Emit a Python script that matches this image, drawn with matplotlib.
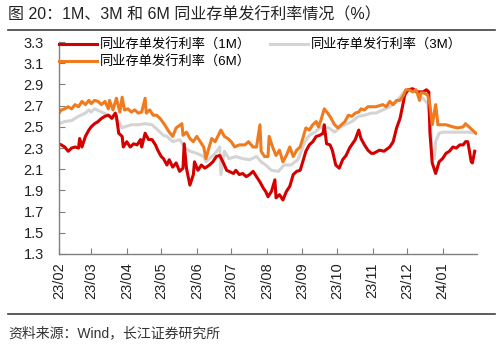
import matplotlib.pyplot as plt
import matplotlib.dates as mdates
import pandas as pd
import numpy as np

plt.rcParams['font.family'] = ['Liberation Sans', 'Noto Sans CJK SC']

# 1M
m1_dates = [
    "2023-02-01", "2023-02-03", "2023-02-06", "2023-02-09", "2023-02-12", "2023-02-15", "2023-02-18",
    "2023-02-19", "2023-02-21", "2023-02-24", "2023-02-27", "2023-03-01", "2023-03-04", "2023-03-07",
    "2023-03-10", "2023-03-13", "2023-03-16", "2023-03-19", "2023-03-22", "2023-03-23", "2023-03-25",
    "2023-03-28", "2023-03-29", "2023-04-01", "2023-04-04", "2023-04-07", "2023-04-10", "2023-04-13",
    "2023-04-14", "2023-04-17", "2023-04-20", "2023-04-23", "2023-04-26", "2023-04-28", "2023-05-01",
    "2023-05-03", "2023-05-06", "2023-05-08", "2023-05-11", "2023-05-14", "2023-05-17", "2023-05-20",
    "2023-05-21", "2023-05-23", "2023-05-26", "2023-05-29", "2023-05-30", "2023-06-02", "2023-06-05",
    "2023-06-08", "2023-06-12", "2023-06-15", "2023-06-18", "2023-06-21", "2023-06-25", "2023-06-27",
    "2023-06-29", "2023-07-03", "2023-07-05", "2023-07-08", "2023-07-11", "2023-07-14", "2023-07-17",
    "2023-07-20", "2023-07-23", "2023-07-26", "2023-07-29", "2023-07-31", "2023-08-02", "2023-08-05",
    "2023-08-08", "2023-08-09", "2023-08-12", "2023-08-15", "2023-08-18", "2023-08-21", "2023-08-24",
    "2023-08-27", "2023-08-30", "2023-09-01", "2023-09-04", "2023-09-07", "2023-09-10", "2023-09-13",
    "2023-09-16", "2023-09-19", "2023-09-20", "2023-09-22", "2023-09-25", "2023-09-27", "2023-09-30",
    "2023-10-03", "2023-10-06", "2023-10-09", "2023-10-12", "2023-10-17", "2023-10-20", "2023-10-22",
    "2023-10-25", "2023-10-28", "2023-10-31", "2023-11-02", "2023-11-07", "2023-11-11", "2023-11-16",
    "2023-11-19", "2023-11-22", "2023-11-25", "2023-11-28", "2023-11-29", "2023-12-02", "2023-12-06",
    "2023-12-10", "2023-12-15", "2023-12-18", "2023-12-20", "2023-12-21", "2023-12-23", "2023-12-26",
    "2023-12-29", "2024-01-01", "2024-01-04", "2024-01-07", "2024-01-10", "2024-01-13", "2024-01-16",
    "2024-01-19", "2024-01-21", "2024-01-23", "2024-01-26", "2024-01-27", "2024-01-29",
]
m1_values = [
    2.34, 2.33, 2.31, 2.27, 2.30, 2.31, 2.30,
    2.39, 2.31, 2.41, 2.47, 2.50, 2.53, 2.55,
    2.58, 2.60, 2.61, 2.58, 2.63, 2.60, 2.44,
    2.41, 2.31, 2.36, 2.31, 2.34, 2.33, 2.38,
    2.31, 2.44, 2.38, 2.38, 2.33, 2.28, 2.22,
    2.20, 2.14, 2.19, 2.12, 2.16, 2.08, 2.11,
    2.34, 2.11, 1.95, 2.05, 2.17, 2.09, 2.14,
    2.11, 2.14, 2.17, 2.22, 2.23, 2.14, 2.09,
    2.08, 2.06, 2.09, 2.05, 2.06, 2.03, 2.05,
    2.08, 2.03, 1.98, 1.92, 1.89, 1.84, 1.89,
    2.00, 1.83, 1.86, 1.81, 1.89, 1.94, 2.05,
    2.08, 2.09, 2.16, 2.27, 2.33, 2.36, 2.41,
    2.42, 2.44, 2.52, 2.34, 2.33, 2.28, 2.14,
    2.11, 2.19, 2.23, 2.30, 2.38, 2.47, 2.39,
    2.33, 2.28, 2.25, 2.25, 2.28, 2.27, 2.31,
    2.36, 2.49, 2.58, 2.74, 2.80, 2.85, 2.86,
    2.83, 2.83, 2.85, 2.83, 2.45, 2.16, 2.06,
    2.17, 2.20, 2.25, 2.27, 2.31, 2.30, 2.33,
    2.33, 2.36, 2.36, 2.17, 2.16, 2.27,
]

# 3M
m3_dates = [
    "2023-02-01", "2023-02-06", "2023-02-12", "2023-02-18", "2023-02-24", "2023-02-27", "2023-03-01",
    "2023-03-04", "2023-03-10", "2023-03-16", "2023-03-20", "2023-03-25", "2023-03-28", "2023-03-30",
    "2023-04-05", "2023-04-11", "2023-04-17", "2023-04-23", "2023-04-28", "2023-05-03", "2023-05-06",
    "2023-05-11", "2023-05-17", "2023-05-22", "2023-05-26", "2023-06-01", "2023-06-07", "2023-06-09",
    "2023-06-12", "2023-06-17", "2023-06-21", "2023-06-22", "2023-06-25", "2023-06-29", "2023-07-05",
    "2023-07-11", "2023-07-17", "2023-07-23", "2023-07-27", "2023-07-31", "2023-08-05", "2023-08-11",
    "2023-08-16", "2023-08-22", "2023-08-28", "2023-08-31", "2023-09-03", "2023-09-07", "2023-09-12",
    "2023-09-16", "2023-09-20", "2023-09-24", "2023-09-29", "2023-10-03", "2023-10-08", "2023-10-14",
    "2023-10-20", "2023-10-25", "2023-10-31", "2023-11-04", "2023-11-10", "2023-11-16", "2023-11-22",
    "2023-11-28", "2023-12-02", "2023-12-06", "2023-12-10", "2023-12-15", "2023-12-19", "2023-12-21",
    "2023-12-23", "2023-12-25", "2023-12-26", "2023-12-29", "2024-01-01", "2024-01-07", "2024-01-13",
    "2024-01-19", "2024-01-24", "2024-01-30",
]
m3_values = [
    2.53, 2.55, 2.56, 2.60, 2.63, 2.66, 2.64,
    2.67, 2.64, 2.61, 2.60, 2.55, 2.49, 2.50,
    2.52, 2.52, 2.53, 2.52, 2.47, 2.42, 2.41,
    2.36, 2.38, 2.30, 2.27, 2.25, 2.22, 2.17,
    2.20, 2.25, 2.31, 2.05, 2.27, 2.20, 2.22,
    2.20, 2.19, 2.22, 2.17, 2.14, 2.09, 2.08,
    2.14, 2.14, 2.19, 2.27, 2.36, 2.42, 2.45,
    2.49, 2.50, 2.49, 2.45, 2.49, 2.52, 2.55,
    2.60, 2.61, 2.63, 2.63, 2.66, 2.69, 2.74,
    2.82, 2.85, 2.85, 2.82, 2.77, 2.72, 2.58,
    2.27, 2.20, 2.36, 2.44, 2.45, 2.45, 2.45,
    2.45, 2.45, 2.44,
]

# 6M
m6_dates = [
    "2023-02-01", "2023-02-03", "2023-02-06", "2023-02-09", "2023-02-12", "2023-02-15", "2023-02-18",
    "2023-02-21", "2023-02-24", "2023-02-27", "2023-03-01", "2023-03-04", "2023-03-07", "2023-03-10",
    "2023-03-13", "2023-03-16", "2023-03-17", "2023-03-20", "2023-03-23", "2023-03-26", "2023-03-28",
    "2023-03-30", "2023-04-02", "2023-04-05", "2023-04-08", "2023-04-11", "2023-04-14", "2023-04-17",
    "2023-04-18", "2023-04-21", "2023-04-24", "2023-04-27", "2023-04-30", "2023-05-04", "2023-05-08",
    "2023-05-11", "2023-05-14", "2023-05-19", "2023-05-20", "2023-05-23", "2023-05-26", "2023-05-29",
    "2023-06-01", "2023-06-04", "2023-06-07", "2023-06-09", "2023-06-11", "2023-06-14", "2023-06-17",
    "2023-06-22", "2023-06-25", "2023-06-28", "2023-07-01", "2023-07-04", "2023-07-08", "2023-07-13",
    "2023-07-16", "2023-07-20", "2023-07-23", "2023-07-26", "2023-07-27", "2023-07-30", "2023-08-02",
    "2023-08-03", "2023-08-06", "2023-08-09", "2023-08-12", "2023-08-15", "2023-08-18", "2023-08-21",
    "2023-08-24", "2023-08-27", "2023-08-30", "2023-09-01", "2023-09-04", "2023-09-07", "2023-09-10",
    "2023-09-13", "2023-09-15", "2023-09-17", "2023-09-20", "2023-09-23", "2023-09-26", "2023-09-29",
    "2023-10-02", "2023-10-05", "2023-10-08", "2023-10-11", "2023-10-14", "2023-10-17", "2023-10-20",
    "2023-10-22", "2023-10-25", "2023-10-28", "2023-10-31", "2023-11-04", "2023-11-10", "2023-11-13",
    "2023-11-16", "2023-11-19", "2023-11-22", "2023-11-25", "2023-11-28", "2023-11-30", "2023-12-03",
    "2023-12-06", "2023-12-09", "2023-12-12", "2023-12-13", "2023-12-16", "2023-12-19", "2023-12-21",
    "2023-12-23", "2023-12-24", "2023-12-26", "2023-12-28", "2023-12-31", "2024-01-04", "2024-01-10",
    "2024-01-14", "2024-01-19", "2024-01-21", "2024-01-24", "2024-01-27", "2024-01-30",
]
m6_values = [
    2.63, 2.66, 2.67, 2.69, 2.67, 2.71, 2.69,
    2.74, 2.71, 2.75, 2.72, 2.75, 2.74, 2.71,
    2.74, 2.67, 2.75, 2.66, 2.77, 2.64, 2.78,
    2.66, 2.67, 2.64, 2.66, 2.63, 2.64, 2.77,
    2.63, 2.66, 2.61, 2.61, 2.58, 2.52, 2.45,
    2.41, 2.49, 2.53, 2.42, 2.45, 2.39, 2.36,
    2.41, 2.36, 2.31, 2.20, 2.28, 2.39, 2.36,
    2.47, 2.41, 2.39, 2.36, 2.31, 2.33, 2.33,
    2.36, 2.31, 2.31, 2.52, 2.27, 2.22, 2.22,
    2.41, 2.31, 2.23, 2.28, 2.17, 2.23, 2.31,
    2.22, 2.28, 2.31, 2.38, 2.49, 2.47, 2.52,
    2.55, 2.50, 2.56, 2.67, 2.63, 2.58, 2.52,
    2.49, 2.52, 2.55, 2.61, 2.60, 2.63, 2.64,
    2.67, 2.66, 2.69, 2.69, 2.69, 2.71, 2.69,
    2.74, 2.71, 2.75, 2.75, 2.80, 2.85, 2.85,
    2.83, 2.85, 2.75, 2.82, 2.82, 2.80, 2.71,
    2.52, 2.58, 2.71, 2.52, 2.52, 2.52, 2.50,
    2.49, 2.50, 2.53, 2.50, 2.47, 2.44,
]

labels = ["同业存单发行利率（1M）", "同业存单发行利率（3M）", "同业存单发行利率（6M）"]
colors = ["#D40000", "#D4D4D4", "#F07A1E"]

fig = plt.figure(figsize=(5, 3.51), dpi=100)
ax = fig.add_axes([0.118, 0.2764, 0.836, 0.6036])

l3, = ax.plot(pd.to_datetime(m3_dates), m3_values, color=colors[1], lw=2.2, label=labels[1])
l1, = ax.plot(pd.to_datetime(m1_dates), m1_values, color=colors[0], lw=2.2, label=labels[0])
l6, = ax.plot(pd.to_datetime(m6_dates), m6_values, color=colors[2], lw=2.2, label=labels[2])

ax.set_ylim(1.3, 3.3)
ax.set_yticks(np.round(np.arange(1.3, 3.31, 0.2), 1))
ax.set_yticklabels([f"{v:.1f}" for v in np.arange(1.3, 3.31, 0.2)])
ax.set_xlim(pd.Timestamp("2023-02-01"), pd.Timestamp("2024-01-31"))
ax.xaxis.set_major_locator(mdates.MonthLocator())
ax.xaxis.set_major_formatter(mdates.DateFormatter("%y/%m"))
plt.setp(ax.get_xticklabels(), rotation=90)

for s in ["top", "right"]:
    ax.spines[s].set_visible(False)
for s in ["left", "bottom"]:
    ax.spines[s].set_color("#808080")
    ax.spines[s].set_linewidth(1.0)
ax.tick_params(direction="in", length=4, color="#808080", labelsize=10.5, labelcolor="#222222")
ax.tick_params(axis="y", pad=11)
ax.tick_params(axis="x", pad=6)

ax.legend([l1, l6, l3], [labels[0], labels[2], labels[1]], ncol=2, loc="upper left",
          bbox_to_anchor=(-0.022, 1.06), frameon=False, fontsize=9.5, handlelength=2.9,
          handletextpad=0.2, columnspacing=1.4, labelspacing=0.32, borderpad=0.2)

fig.text(0.016, 0.957, "图 20：1M、3M 和 6M 同业存单发行利率情况（%）", fontsize=11.5,
         va="center", ha="left", color="#222222")
fig.add_artist(plt.Line2D([0.016, 0.99], [0.9145, 0.9145], color="#404040", lw=1.2))
fig.add_artist(plt.Line2D([0.016, 0.99], [0.105, 0.105], color="#404040", lw=1.2))
fig.text(0.016, 0.051, "资料来源：Wind，长江证券研究所", fontsize=10, va="center", ha="left",
         color="#333333")

fig.savefig("out.png", dpi=100)
